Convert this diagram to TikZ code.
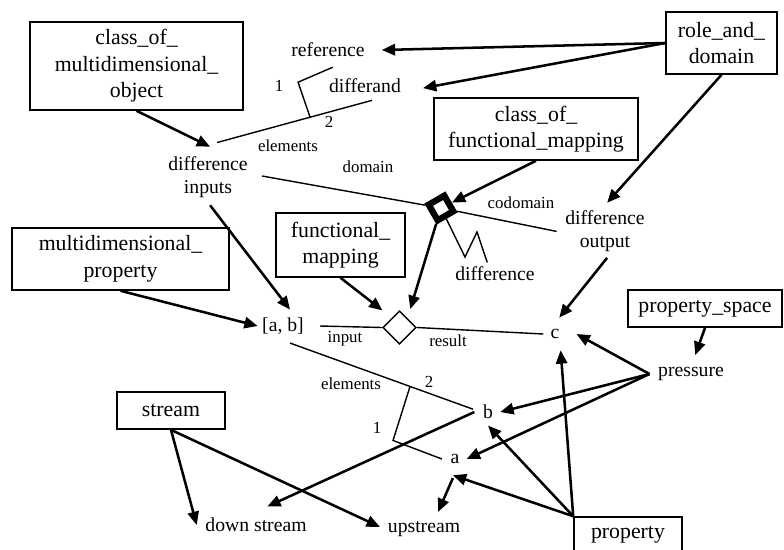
\documentclass[tikz,border=0pt]{standalone}
\usepackage{fontspec}
\setmainfont{Liberation Serif}
\usetikzlibrary{arrows.meta, shapes.geometric}

\newcommand{\boxfont}{\fontsize{15.5}{18.8}\selectfont}
\newcommand{\lblfont}{\fontsize{14}{16.4}\selectfont}
\newcommand{\smlfont}{\fontsize{12}{14}\selectfont}

\tikzset{
  entity/.style={draw, line width=1.1pt, align=center, font=\boxfont, inner sep=0pt},
  lbl/.style={font=\lblfont, inner sep=1pt, align=center},
  sml/.style={font=\smlfont, inner sep=1pt},
  arr/.style={line width=1.8pt, -{Triangle[length=9.5pt, width=8pt]}},
  ln/.style={line width=1pt}
}

\begin{document}
\begin{tikzpicture}[x=0.025cm, y=-0.025cm]
  \useasboundingbox (0,0) rectangle (784,549);
  \clip (0,0) rectangle (784,549);

  % classes
  \node[entity, minimum width=5.33cm, minimum height=2.2cm] (cmo) at (136.5,66)
    {class\_of\_\\multidimensional\_\\object};
  \node[entity, minimum width=2.78cm, minimum height=1.55cm] (rad) at (721.5,43)
    {role\_and\_\\domain};
  \node[entity, minimum width=5.1cm, minimum height=1.55cm] (cfm) at (536,129)
    {class\_of\_\\functional\_mapping};
  \node[entity, minimum width=5.43cm, minimum height=1.55cm] (mdp) at (120.5,259)
    {multidimensional\_\\property};
  \node[entity, minimum width=3.23cm, minimum height=1.6cm] (fm) at (340.5,245)
    {functional\_\\mapping};
  \node[entity, minimum width=3.85cm, minimum height=0.93cm] (ps) at (705,308.5)
    {property\_space};
  \node[entity, minimum width=2.7cm, minimum height=0.93cm] (strm) at (171,410.5)
    {stream};
  \node[entity, minimum width=2.7cm, minimum height=0.9cm] (prop) at (628,535)
    {property};

  % things
  \node[lbl] (ref) at (328,50) {reference};
  \node[lbl] (dif) at (365,86) {differand};
  \node[lbl] (dinp) at (208,177.4) {difference\\inputs};
  \node[lbl] (dout) at (605,231.4) {difference\\output};
  \node[lbl] (dfl) at (495,274) {difference};
  \node[lbl] (ab) at (283,326) {[a, b]};
  \node[lbl] (c) at (555,334) {c};
  \node[lbl] (pr) at (691,374) {pressure};
  \node[lbl] (b) at (488,412) {b};
  \node[lbl] (a) at (455,459) {a};
  \node[lbl] (ds) at (256,525) {down stream};
  \node[lbl] (up) at (424,529) {upstream};

  % mappings
  \node[draw, line width=4.5pt, minimum size=0.45cm, rotate=30] (bd) at (441,208) {};
  \node[draw, diamond, line width=1pt, inner sep=0pt, minimum width=0.83cm,
    minimum height=0.83cm] (sd) at (399.5,327.5) {};

  % small labels
  \node[sml] (n1a) at (279,86) {1};
  \node[sml] (n2a) at (329,122) {2};
  \node[sml] (ela) at (288,146) {elements};
  \node[sml] (dom) at (368,167) {domain};
  \node[sml] (cod) at (521,203) {codomain};
  \node[sml] (inp) at (345,339) {input};
  \node[sml] (res) at (448,341) {result};
  \node[sml] (elb) at (351,384) {elements};
  \node[sml] (n2b) at (429,382) {2};
  \node[sml] (n1b) at (377,428) {1};

  % relations
  \draw[ln] ([xshift=6.5pt, yshift=9pt]dinp.north) -- coordinate[pos=0.6] (j1)
    ([xshift=5pt, yshift=-4pt]dif.south);
  \draw[ln] (j1) -- ++(-12,-35) -- ([xshift=3.5pt, yshift=-6pt]ref.south);
  \draw[ln] ([xshift=9pt, yshift=1pt]dinp.east) -- (bd);
  \draw[ln] (bd) -- ([xshift=-5pt]dout.west);
  \draw[ln] (bd) -- (465,257) -- (477,232) -- ([xshift=-5.5pt, yshift=2pt]dfl.north);
  \draw[ln] ([xshift=10.5pt]ab.east) -- (sd.west);
  \draw[ln] (sd.east) -- ([xshift=-4pt]c.west);
  \draw[ln] ([xshift=5pt, yshift=-5pt]ab.south) -- coordinate[pos=0.656] (j2)
    ([xshift=-6pt, yshift=2pt]b.west);
  \draw[ln] (j2) -- ++(-17,54) -- ([xshift=-5pt]a.west);

  % classifications
  \draw[arr] (rad.west) -- ([xshift=11pt]ref.east);
  \draw[arr] (rad.west) -- ([xshift=14.5pt, yshift=-1.5pt]dif.east);
  \draw[arr] (rad.south) -- ([xshift=1.5pt, yshift=4.5pt]dout.north);
  \draw[arr] (cmo.south) -- ([xshift=1.5pt, yshift=6pt]dinp.north);
  \draw[arr] (cfm.south) -- (bd);
  \draw[arr] (bd) -- ([xshift=1.5pt, yshift=7pt]sd.north east);
  \draw[arr] (fm.south) -- ([xshift=-6pt, yshift=6pt]sd.north west);
  \draw[arr] ([xshift=1.5pt, yshift=-4pt]dinp.south) -- ([xshift=5pt, yshift=4.5pt]ab.north);
  \draw[arr] (mdp.south) -- ([xshift=-2pt]ab.west);
  \draw[arr] ([xshift=1.5pt, yshift=-3pt]dout.south) -- ([xshift=3pt, yshift=7pt]c.north);
  \draw[arr] (ps.south) -- ([xshift=3pt, yshift=7.5pt]pr.north);
  \coordinate (prj) at ([xshift=-5pt]pr.west);
  \draw[arr] (prj) -- ([xshift=11pt]c.east);
  \draw[arr] (prj) -- ([xshift=4pt]b.east);
  \draw[arr] (prj) -- ([xshift=4pt]a.east);
  \draw[arr] (prop.north west) -- ([xshift=4pt, yshift=-7pt]c.south);
  \draw[arr] (prop.north west) -- ([yshift=-3.5pt]b.south);
  \draw[arr] (prop.north west) -- ([xshift=-1.5pt, yshift=-7pt]a.south);
  \draw[arr] ([xshift=-1.5pt, yshift=-9pt]a.south) -- ([xshift=10pt, yshift=5.5pt]up.north);
  \draw[arr] (strm.south) -- ([xshift=-5pt]ds.west);
  \draw[arr] (strm.south) -- ([xshift=-4.5pt, yshift=1.5pt]up.west);
  \draw[arr] ([xshift=-5pt]b.west) -- ([xshift=8pt, yshift=7pt]ds.north);
\end{tikzpicture}
\end{document}
